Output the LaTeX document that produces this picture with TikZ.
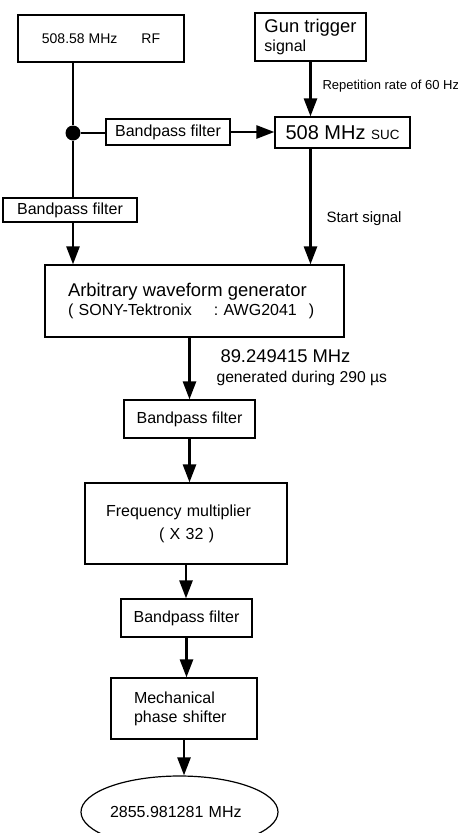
\documentclass[tikz,border=0pt]{standalone}
\usepackage{fontspec}
\setmainfont{Liberation Sans}
\usepackage{tikz}
\usetikzlibrary{positioning,arrows.meta,shapes.geometric}
\newcommand{\fsz}[2]{\fontsize{#1}{#2}\selectfont}

\begin{document}
\begin{tikzpicture}[x=1pt, y=-1pt, >={Triangle[length=18pt,width=13pt]},
		box/.style={draw, line width=1.2pt, inner sep=0pt, font=\fsz{16}{19}},
		flow/.style={->, line width=2.6pt},
		wire/.style={line width=2.6pt}]
			\useasboundingbox (0,0) rectangle (458,833);

			\node[box, minimum width=166pt, minimum height=47pt, font=\fsz{14}{17}] (rf) at (101,38.5) {508.58 MHz\hspace{24pt}RF};
			\node[box, minimum width=111pt, minimum height=48pt, align=left] (gun) at (310.5,37) {\fsz{18.4}{18}Gun trigger\\ \fsz{16}{18}signal};
			\node[box, minimum width=135pt, minimum height=31pt] (suc) at (342.5,132.5) {\fsz{20}{24}508 MHz \fsz{13.4}{16}SUC};
			\node[box, minimum width=124pt, minimum height=26pt] (bpfa) at (168,132) {Bandpass filter};
			\node[circle, fill, minimum size=15pt, inner sep=0pt] (tap) at (73,133) {};
			\node[box, minimum width=134pt, minimum height=24pt] (bpfb) at (70,210) {Bandpass filter};
			\node[box, minimum width=299pt, minimum height=72pt, text width=253pt, align=left] (awg) at (194.5,301) {\fsz{18.4}{19}Arbitrary waveform generator\\ \fsz{16}{19}(~SONY-Tektronix\hspace{22pt}:~AWG2041\hspace{12pt})};
			\node[box, minimum width=131pt, minimum height=38pt] (bpfc) at (189.5,419) {Bandpass filter};
			\node[box, minimum width=202pt, minimum height=81pt, text width=160pt, align=left, font=\fsz{16}{23}] (mult) at (186,523.5) {Frequency multiplier\\ \hspace*{53pt}(~X 32~)};
			\node[box, minimum width=131pt, minimum height=38pt] (bpfd) at (186.5,618) {Bandpass filter};
			\node[box, minimum width=146pt, minimum height=61pt, text width=100pt, align=left] (shifter) at (184,708.5) {Mechanical\\phase shifter};
			\node[draw, ellipse, line width=1.2pt, minimum width=197pt, minimum height=72pt, inner sep=0pt, text width=139pt, align=left, font=\fsz{16}{19}] (out) at (179.5,812) {2855.981281 MHz};

			\node[anchor=base west, font=\fsz{13}{16}] (reprate) at (319,89) {Repetition rate of 60 Hz};
			\node[anchor=base west, font=\fsz{15}{18}] (startlbl) at (323,222) {Start signal};
			\node[anchor=base west, font=\fsz{18.4}{22}] (freqlbl) at (217,362) {89.249415 MHz};
			\node[anchor=base west, font=\fsz{15.7}{19}] (durlbl) at (213,382) {generated during 290 µs};

			\draw[wire] (rf.south -| tap) -- (tap);
			\draw[wire] (tap) -- (tap -| bpfa.west);
			\draw[flow] (bpfa.east) -- (bpfa.east -| suc.west);
			\draw[wire] (tap) -- (tap |- bpfb.north);
			\draw[flow] (tap |- bpfb.south) -- (tap |- awg.north);
			\draw[flow] (gun) -- (gun |- suc.north);
			\draw[flow] (suc.south -| gun) -- (awg.north -| gun);
			\draw[flow] (awg.south -| bpfc) -- (bpfc);
			\draw[flow] (bpfc) -- (bpfc |- mult.north);
			\draw[flow] (mult) -- (mult |- bpfd.north);
			\draw[flow] (bpfd) -- (bpfd |- shifter.north);
			\draw[flow] (shifter) -- (shifter |- out.north);
		\end{tikzpicture}
\end{document}
